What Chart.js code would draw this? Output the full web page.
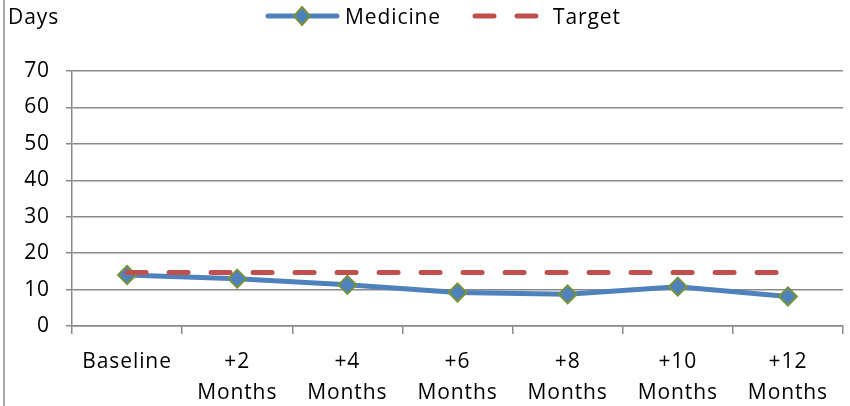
<!DOCTYPE html>
<html>
<head>
<meta charset="utf-8">
<script src="https://cdn.jsdelivr.net/npm/chart.js@4/dist/chart.umd.min.js"></script>
<style>
  html, body { margin: 0; padding: 0; background: #ffffff; }
  #wrap { width: 850px; height: 406px; position: relative; }
  canvas { display: block; }
</style>
</head>
<body>
<div id="wrap"><canvas id="chart" width="850" height="406"></canvas></div>
<script>
// Category labels (multi-line) along the bottom axis
const categories = [
  ['Baseline'],
  ['+2', 'Months'],
  ['+4', 'Months'],
  ['+6', 'Months'],
  ['+8', 'Months'],
  ['+10', 'Months'],
  ['+12', 'Months']
];

// Days per period
const medicineDays = [14, 13, 11.3, 9.2, 8.7, 10.8, 8.1];
const targetDays = [14.7, 14.7, 14.7, 14.7, 14.7, 14.7, 14.7];

// Value axis range and step
const yMin = 0;
const yMax = 70;
const yStep = 10;

const axisTitle = 'Days';
const seriesNames = ['Medicine', 'Target'];

const FONT_FAMILY = '"Open Sans", "DejaVu Sans", sans-serif';
const FONT_SIZE = 21;
const LETTER_SPACING = '0.9px';
const GRID = '#898989';
const BLUE = '#4F81BD';
const RED = '#C0504D';
const GREEN = '#77933C';

// Wider tracking for all canvas text
const spacingPlugin = {
  id: 'spacing',
  beforeLayout(chart) { chart.ctx.letterSpacing = LETTER_SPACING; },
  beforeDraw(chart) { chart.ctx.letterSpacing = LETTER_SPACING; }
};

// Outer frame line, axis caption and legend row
const decorPlugin = {
  id: 'decor',
  afterDraw(chart) {
    const ctx = chart.ctx;
    ctx.save();
    ctx.letterSpacing = LETTER_SPACING;

    // left frame edge
    ctx.strokeStyle = '#8e8e8e';
    ctx.lineWidth = 1.5;
    ctx.beginPath();
    ctx.moveTo(4, 0);
    ctx.lineTo(4, 406);
    ctx.stroke();

    ctx.fillStyle = '#000000';
    ctx.font = FONT_SIZE + 'px ' + FONT_FAMILY;
    ctx.textBaseline = 'middle';
    ctx.textAlign = 'left';
    ctx.fillText(axisTitle, 8, 18);

    const ly = 16;
    // Medicine legend sample: line with diamond marker
    ctx.strokeStyle = BLUE;
    ctx.lineWidth = 5;
    ctx.lineCap = 'round';
    ctx.beginPath();
    ctx.moveTo(268, ly);
    ctx.lineTo(337, ly);
    ctx.stroke();
    ctx.fillStyle = BLUE;
    ctx.strokeStyle = GREEN;
    ctx.lineWidth = 2;
    ctx.beginPath();
    ctx.moveTo(302, ly - 9);
    ctx.lineTo(310, ly);
    ctx.lineTo(302, ly + 9);
    ctx.lineTo(294, ly);
    ctx.closePath();
    ctx.fill();
    ctx.stroke();
    ctx.fillStyle = '#000000';
    ctx.fillText(seriesNames[0], 345, ly + 2);

    // Target legend sample: two dashes
    ctx.strokeStyle = RED;
    ctx.lineWidth = 5;
    ctx.lineCap = 'round';
    ctx.beginPath();
    ctx.moveTo(475, ly);
    ctx.lineTo(494, ly);
    ctx.moveTo(517, ly);
    ctx.lineTo(536, ly);
    ctx.stroke();
    ctx.fillStyle = '#000000';
    ctx.fillText(seriesNames[1], 553, ly + 2);
    ctx.restore();
  }
};

const ctx = document.getElementById('chart').getContext('2d');
new Chart(ctx, {
  type: 'line',
  data: {
    labels: categories,
    datasets: [
      {
        label: seriesNames[0],
        data: medicineDays,
        order: 2,
        borderColor: BLUE,
        borderWidth: 5,
        tension: 0,
        pointStyle: 'rectRot',
        pointRadius: 9,
        pointHoverRadius: 9,
        pointBackgroundColor: BLUE,
        pointBorderColor: GREEN,
        pointBorderWidth: 2,
        fill: false
      },
      {
        label: seriesNames[1],
        data: targetDays,
        order: 1,
        borderColor: RED,
        borderWidth: 5,
        borderDash: [19, 23],
        borderCapStyle: 'round',
        tension: 0,
        pointRadius: 0,
        pointHoverRadius: 0,
        fill: false
      }
    ]
  },
  options: {
    responsive: false,
    animation: false,
    devicePixelRatio: 1,
    layout: { autoPadding: false, padding: { top: 71, right: 7, left: 0, bottom: 0 } },
    plugins: {
      legend: { display: false },
      tooltip: { enabled: false },
      title: { display: false }
    },
    scales: {
      x: {
        offset: true,
        afterFit(scale) { scale.height = 80; scale.paddingLeft = 0; scale.paddingRight = 0; },
        grid: {
          offset: true,
          drawOnChartArea: false,
          drawTicks: true,
          tickLength: 8,
          color: GRID,
          lineWidth: 1.5
        },
        border: { display: true, color: GRID, width: 1.5 },
        ticks: {
          color: '#000000',
          padding: 13,
          maxRotation: 0,
          autoSkip: false,
          font: { family: FONT_FAMILY, size: FONT_SIZE, lineHeight: 1.45 }
        }
      },
      y: {
        min: yMin,
        max: yMax,
        afterFit(scale) { scale.width = 72; scale.paddingTop = 0; scale.paddingBottom = 0; },
        grid: {
          color: GRID,
          lineWidth: 1.5,
          drawTicks: true,
          tickLength: 6
        },
        border: { display: true, color: GRID, width: 1.5 },
        ticks: {
          stepSize: yStep,
          color: '#000000',
          padding: 16,
          font: { family: FONT_FAMILY, size: FONT_SIZE }
        }
      }
    }
  },
  plugins: [spacingPlugin, decorPlugin]
});
</script>
</body>
</html>
